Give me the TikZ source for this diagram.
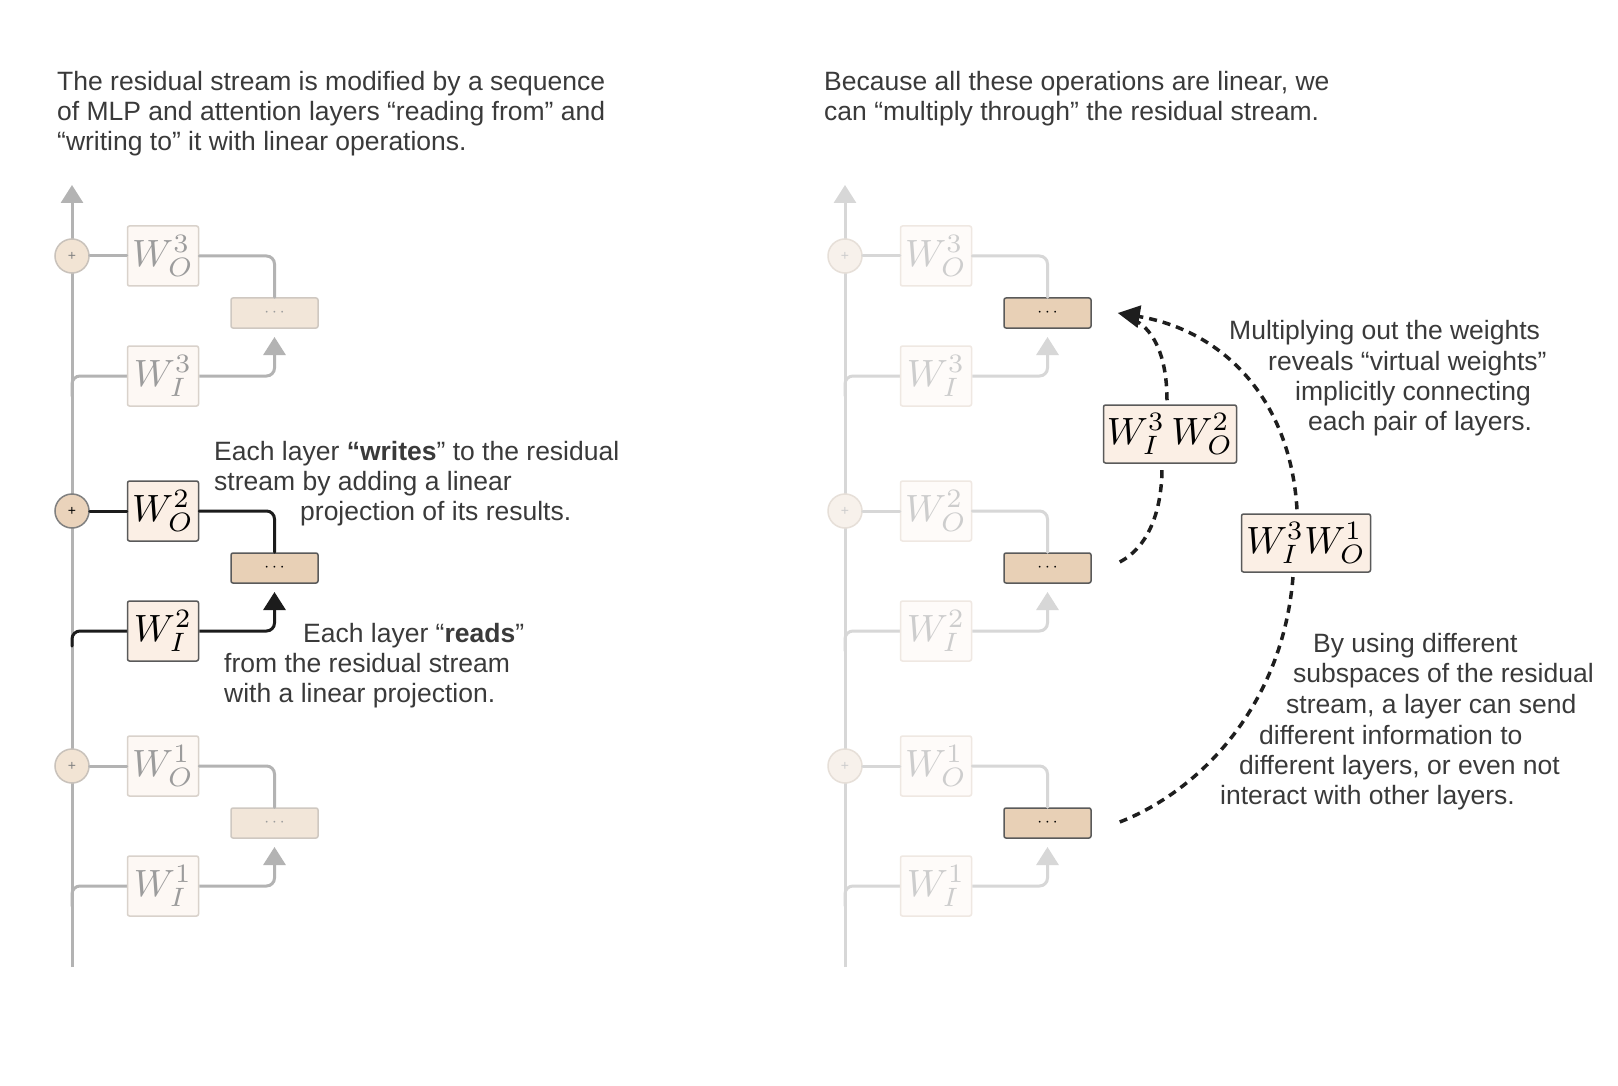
\documentclass[tikz,border=0pt]{standalone}
\usepackage[no-math]{fontspec}
\setmainfont{Liberation Sans}
\usepackage{graphicx}
\usetikzlibrary{arrows.meta,calc}
\definecolor{textc}{HTML}{3A3A3A}
\definecolor{lline}{HTML}{B3B3B3}
\definecolor{lboxf}{HTML}{FDF8F4}
\definecolor{lboxd}{HTML}{D9D2CB}
\definecolor{lwt}{HTML}{9C9C9C}
\definecolor{lplusf}{HTML}{F2E4D4}
\definecolor{lplusd}{HTML}{C9C2BB}
\definecolor{ldotf}{HTML}{F2E6D9}
\definecolor{ldotd}{HTML}{CFC8C1}
\definecolor{hline}{HTML}{1C1C1C}
\definecolor{hboxf}{HTML}{FBEFE5}
\definecolor{hboxd}{HTML}{5A5A5A}
\definecolor{hdotf}{HTML}{E8D0B6}
\definecolor{hplusf}{HTML}{EAD3BB}
\definecolor{rline}{HTML}{D7D7D7}
\definecolor{rboxf}{HTML}{FEFBF9}
\definecolor{rboxd}{HTML}{EFE8E2}
\definecolor{rwt}{HTML}{CDCDCD}
\definecolor{rplusf}{HTML}{F7F1EB}
\definecolor{rplusd}{HTML}{E6DFD8}
\definecolor{dashc}{HTML}{1E1E1E}
\begin{document}
\begin{tikzpicture}[x=1pt,y=-1pt,
  txt/.style={anchor=base west, inner sep=0pt, text=textc, font=\fontsize{26.5}{30}\selectfont},
  wbox/.style={rectangle, rounded corners=2pt, minimum width=71pt, minimum height=60pt, inner sep=0pt, line width=1.5pt},
  lw/.style={wbox, fill=lboxf, draw=lboxd, text=lwt},
  hw/.style={wbox, fill=hboxf, draw=hboxd, text=black},
  rw/.style={wbox, fill=rboxf, draw=rboxd, text=rwt},
  dbox/.style={rectangle, rounded corners=2pt, minimum width=87pt, minimum height=30pt, inner sep=0pt, line width=1.5pt, font=\fontsize{16}{16}\selectfont},
  ld/.style={dbox, fill=ldotf, draw=ldotd, text=lwt},
  hd/.style={dbox, fill=hdotf, draw=hboxd, text=black},
  rd/.style={dbox, fill=hdotf, draw=hboxd, text=black},
  plus/.style={circle, minimum size=34pt, inner sep=0pt, line width=1.5pt, font=\fontsize{14}{14}\selectfont},
  lp/.style={plus, fill=lplusf, draw=lplusd, text=gray},
  hp/.style={plus, fill=hplusf, draw=gray, text=black},
  rp/.style={plus, fill=rplusf, draw=rplusd, text=rwt},
  ln/.style={line width=3pt, line cap=round},
  lfl/.style={ln, draw=lline},
  hfl/.style={ln, draw=hline},
  rfl/.style={ln, draw=rline},
  tip/.style={-{Triangle[width=22pt,length=18pt]}},
  vbox/.style={rectangle, rounded corners=2pt, minimum height=58pt, inner sep=0pt, line width=1.5pt, fill=hboxf, draw=hboxd, text=black},
  vdash/.style={draw=dashc, line width=3.5pt, dash pattern=on 8pt off 6pt}
]
\useasboundingbox[fill=white] (0,0) rectangle (1618,1086);

% ---------- texts ----------
\node[txt] (t1) at (57,91) {The residual stream is modified by a sequence};
\node[txt] (t2) at (57,121) {of MLP and attention layers “reading from” and};
\node[txt] (t3) at (57,151) {“writing to” it with linear operations.};
\node[txt] (t4) at (824,91) {Because all these operations are linear, we};
\node[txt] (t5) at (824,121) {can “multiply through” the residual stream.};
\node[txt] (w1) at (214,460) {Each layer \textbf{“writes}” to the residual};
\node[txt] (w2) at (214,490) {stream by adding a linear};
\node[txt] (w3) at (300,520) {projection of its results.};
\node[txt] (r1) at (303,642) {Each layer “\textbf{reads}”};
\node[txt] (r2) at (224,672) {from the residual stream};
\node[txt] (r3) at (224,702) {with a linear projection.};
\node[txt] (m1) at (1229,339) {Multiplying out the weights};
\node[txt] (m2) at (1268,370) {reveals “virtual weights”};
\node[txt] (m3) at (1295,400) {implicitly connecting};
\node[txt] (m4) at (1308,430) {each pair of layers.};
\node[txt] (b1) at (1313,652) {By using different};
\node[txt] (b2) at (1293,682) {subspaces of the residual};
\node[txt] (b3) at (1286,713) {stream, a layer can send};
\node[txt] (b4) at (1259,744) {different information to};
\node[txt] (b5) at (1239,774) {different layers, or even not};
\node[txt] (b6) at (1220,804) {interact with other layers.};

% ---------- left stream ----------
\coordinate (Lbot) at (72,967);
\coordinate (Ltop) at (72,185);
\draw[lfl, line cap=butt, tip] (Lbot) -- (Ltop);

\foreach \k/\c in {3/256,1/766}{
  \coordinate (LB\k) at (72,\c+140);
  \coordinate (LA\k) at (274.5,\c+81);
  \draw[lfl, rounded corners=8pt] (LB\k) |- (163,\c+120);
  \node[lp] (LP\k) at (72,\c) {+};
  \node[lw] (LO\k) at (163,\c) {\scalebox{3.8}{$W^{\k}_{O}$}};
  \node[ld] (LD\k) at (274.5,\c+57) {$\cdots$};
  \node[lw] (LI\k) at (163,\c+120) {\scalebox{3.8}{$W^{\k}_{I}$}};
  \draw[lfl] (LP\k) -- (LO\k);
  \draw[lfl, rounded corners=8pt] (LO\k.east) -| (LD\k.north);
  \draw[lfl, rounded corners=8pt, line cap=butt, tip] (LI\k.east) -| (LA\k);
}
% highlighted layer 2
\coordinate (LB2) at (72,511+135);
\coordinate (LA2) at (274.5,511+81);
\draw[hfl, rounded corners=8pt] (LB2) |- (163,631);
\node[hp] (LP2) at (72,511) {+};
\node[hw] (LO2) at (163,511) {\scalebox{3.8}{$W^{2}_{O}$}};
\node[hd] (LD2) at (274.5,568) {$\cdots$};
\node[hw] (LI2) at (163,631) {\scalebox{3.8}{$W^{2}_{I}$}};
\draw[hfl] (LP2) -- (LO2);
\draw[hfl, rounded corners=8pt] (LO2.east) -| (LD2.north);
\draw[hfl, rounded corners=8pt, line cap=butt, tip] (LI2.east) -| (LA2);

% ---------- right stream ----------
\coordinate (Rbot) at (845,967);
\coordinate (Rtop) at (845,185);
\draw[rfl, line cap=butt, tip] (Rbot) -- (Rtop);
\foreach \k/\c in {3/256,2/511,1/766}{
  \coordinate (RB\k) at (845,\c+140);
  \coordinate (RA\k) at (1047.5,\c+81);
  \draw[rfl, rounded corners=8pt] (RB\k) |- (936,\c+120);
  \node[rp] (RP\k) at (845,\c) {+};
  \node[rw] (RO\k) at (936,\c) {\scalebox{3.8}{$W^{\k}_{O}$}};
  \node[rd] (RD\k) at (1047.5,\c+57) {$\cdots$};
  \node[rw] (RI\k) at (936,\c+120) {\scalebox{3.8}{$W^{\k}_{I}$}};
  \draw[rfl] (RP\k) -- (RO\k);
  \draw[rfl, rounded corners=8pt] (RO\k.east) -| (RD\k.north);
  \draw[rfl, rounded corners=8pt, line cap=butt, tip] (RI\k.east) -| (RA\k);
}

% ---------- virtual weights ----------
\node[vbox, minimum width=133pt] (VA) at (1170,434) {\scalebox{3.8}{$W^{3}_{I}\,W^{2}_{O}$}};
\node[vbox, minimum width=129pt] (VB) at (1306,543) {\scalebox{3.8}{$W^{3}_{I}W^{1}_{O}$}};

\coordinate (tipC) at ($(RD3.east)+(26,0)$);
\coordinate (fromA) at ($(RD2.east)+(28,-6)$);
\coordinate (fromB) at ($(RD1.east)+(28,-1)$);
\coordinate (VAin) at ($(VA.south)+(-8,4)$);
\coordinate (VAout) at ($(VA.north)+(-3,-4)$);
\coordinate (VBin) at ($(VB.south)+(-13,4)$);
\coordinate (VBout) at ($(VB.north)+(-9,-4)$);

\draw[vdash] (fromA) .. controls +(32,-17) and +(0,37) .. (VAin);
\draw[vdash, shorten >=18pt] (VAout) .. controls +(0,-50) and +(32,14) .. (tipC);
\draw[vdash] (fromB) .. controls +(82,-32) and +(-10,127) .. (VBin);
\draw[vdash, -{Triangle[width=22pt,length=22pt]}] (VBout) .. controls +(-7,-114) and +(102,17) .. (tipC);
\end{tikzpicture}
\end{document}
